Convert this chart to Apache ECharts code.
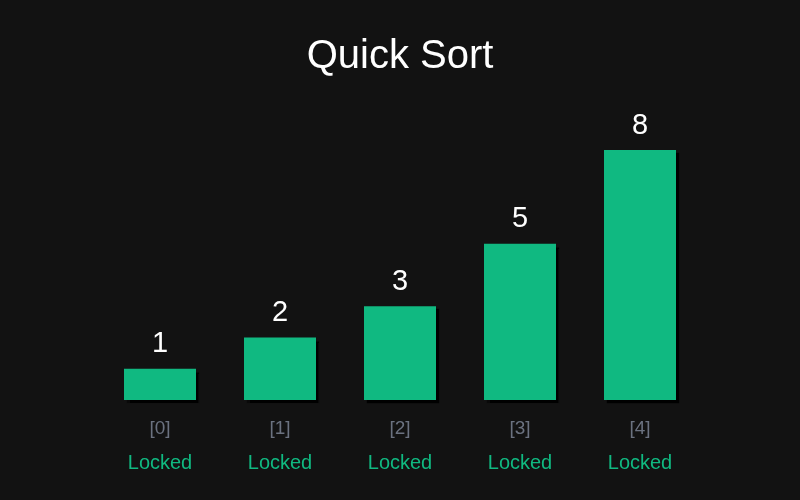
<!DOCTYPE html>
<html><head><meta charset="utf-8">
<script src="https://cdn.jsdelivr.net/npm/echarts@6/dist/echarts.min.js"></script>
<style>html,body{margin:0;padding:0;background:#121212;}#c{width:800px;height:500px;}</style>
</head><body><div id="c"></div>
<script>
const titleText = 'Quick Sort';
const indices = ['[0]', '[1]', '[2]', '[3]', '[4]'];
const states = ['Locked', 'Locked', 'Locked', 'Locked', 'Locked'];
const values = [1, 2, 3, 5, 8];

const chart = echarts.init(document.getElementById('c'), null, {renderer: 'canvas'});
chart.setOption({
  backgroundColor: '#121212',
  animation: false,
  title: {
    text: titleText, left: 'center', top: 32,
    textStyle: {color: '#ffffff', fontSize: 40, fontWeight: 'normal', fontFamily: 'Liberation Sans'}
  },
  grid: {left: 100, right: 100, top: 87.5, bottom: 100},
  xAxis: {
    type: 'category',
    data: indices.map((d, i) => d + '\n' + states[i]),
    axisLine: {show: false}, axisTick: {show: false},
    axisLabel: {
      margin: 12,
      formatter: function (v) {
        const p = v.split('\n');
        return '{i|' + p[0] + '}\n{s|' + p[1] + '}';
      },
      rich: {
        i: {color: '#6b7280', fontSize: 19, fontFamily: 'Liberation Sans', lineHeight: 34},
        s: {color: '#10b981', fontSize: 20, fontFamily: 'Liberation Sans', lineHeight: 34}
      }
    }
  },
  yAxis: {type: 'value', min: 0, max: 10, show: false, splitLine: {show: false}},
  series: [{
    type: 'bar',
    data: values,
    barWidth: 72,
    itemStyle: {color: '#10b981', shadowColor: '#000000', shadowOffsetX: 3, shadowOffsetY: 3, shadowBlur: 1},
    label: {show: true, position: 'top', distance: 10, color: '#ffffff', fontSize: 29, fontFamily: 'Liberation Sans'}
  }]
});
</script></body></html>
